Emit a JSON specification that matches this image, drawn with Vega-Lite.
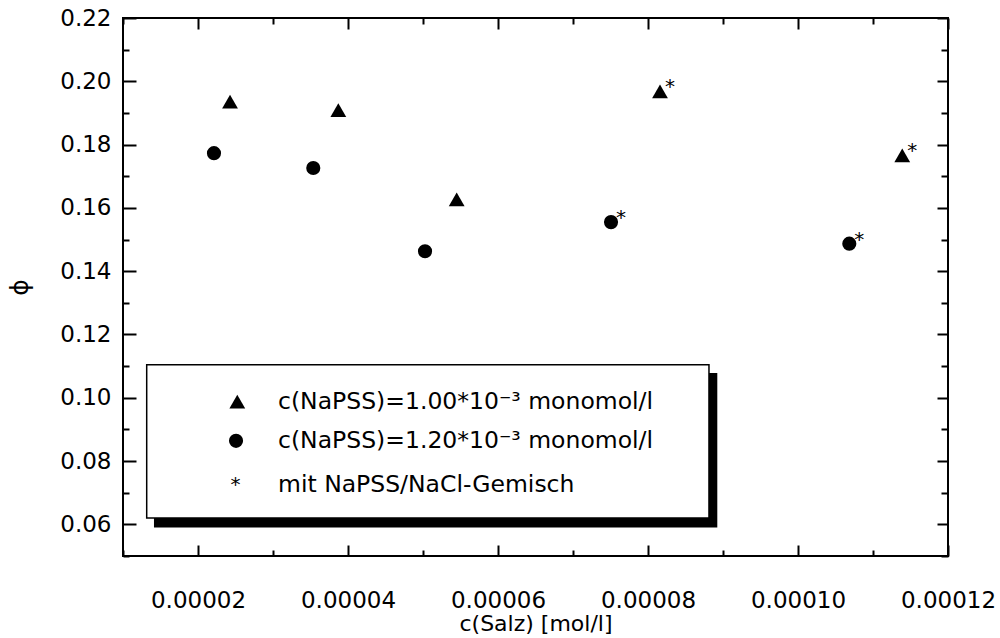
{
  "$schema": "https://vega.github.io/schema/vega-lite/v6.json",
  "width": 825,
  "height": 538,
  "autosize": {"type": "none"},
  "padding": {"left": 123, "top": 18, "right": 52, "bottom": 82},
  "background": "white",
  "config": {
    "view": {"stroke": "black", "strokeWidth": 2},
    "font": "DejaVu Sans",
    "axis": {
      "labelFont": "DejaVu Sans", "labelFontSize": 23, "labelColor": "black",
      "titleFont": "DejaVu Sans", "titleFontSize": 22, "titleFontWeight": "normal", "titleColor": "black",
      "tickColor": "black", "tickWidth": 2, "domain": false, "grid": false
    }
  },
  "datasets": {
    "pts": [
      {"c": 0.00002427, "phi": 0.1936, "serie": "1.00", "gemisch": false},
      {"c": 0.00003871, "phi": 0.1909, "serie": "1.00", "gemisch": false},
      {"c": 0.00005449, "phi": 0.1627, "serie": "1.00", "gemisch": false},
      {"c": 0.0000816, "phi": 0.1968, "serie": "1.00", "gemisch": true},
      {"c": 0.0001139, "phi": 0.1766, "serie": "1.00", "gemisch": true},
      {"c": 0.00002213, "phi": 0.1773, "serie": "1.20", "gemisch": false},
      {"c": 0.00003537, "phi": 0.1726, "serie": "1.20", "gemisch": false},
      {"c": 0.00005027, "phi": 0.1463, "serie": "1.20", "gemisch": false},
      {"c": 0.00007507, "phi": 0.1555, "serie": "1.20", "gemisch": true},
      {"c": 0.00010684, "phi": 0.1487, "serie": "1.20", "gemisch": true}
    ],
    "box": [
      {"part": "shadow", "x1": 0.00001413, "x2": 0.00008924, "y1": 0.10782, "y2": 0.05904},
      {"part": "box", "x1": 0.00001316, "x2": 0.00008813, "y1": 0.11045, "y2": 0.0620}
    ],
    "leg": [
      {"lx": 0.00002524, "ly": 0.0988, "tx": 0.00003067, "ty": 0.0988, "serie": "1.00", "label": "c(NaPSS)=1.00*10⁻³ monomol/l"},
      {"lx": 0.00002507, "ly": 0.0864, "tx": 0.00003067, "ty": 0.0864, "serie": "1.20", "label": "c(NaPSS)=1.20*10⁻³ monomol/l"},
      {"lx": 0.0000250, "ly": 0.0725, "tx": 0.00003067, "ty": 0.0725, "serie": "star", "label": "mit NaPSS/NaCl-Gemisch"}
    ]
  },
  "layer": [
    {
      "data": {"name": "box"},
      "transform": [{"filter": "datum.part === 'shadow'"}],
      "mark": {"type": "rect", "fill": "black"},
      "encoding": {
        "x": {"field": "x1", "type": "quantitative", "scale": {"domain": [0.00001, 0.00012], "nice": false, "zero": false},
          "axis": {"orient": "bottom", "values": [0.00002, 0.00004, 0.00006, 0.00008, 0.0001, 0.00012], "format": ".5f", "ticks": false, "labelPadding": 33, "labelFlush": false, "title": "c(Salz) [mol/l]", "titlePadding": 1}},
        "x2": {"field": "x2"},
        "y": {"field": "y1", "type": "quantitative", "scale": {"domain": [0.05, 0.22], "nice": false, "zero": false},
          "axis": {"orient": "left", "values": [0.06, 0.08, 0.1, 0.12, 0.14, 0.16, 0.18, 0.2, 0.22], "format": ".2f", "ticks": false, "labelPadding": 12, "labelFlush": false, "title": "ϕ", "titlePadding": 27, "titleFontSize": 25}},
        "y2": {"field": "y2"}
      }
    },
    {
      "data": {"name": "box"},
      "transform": [{"filter": "datum.part === 'box'"}],
      "mark": {"type": "rect", "fill": "white", "stroke": "black", "strokeWidth": 1.5},
      "encoding": {
        "x": {"field": "x1", "type": "quantitative",
          "axis": {"orient": "bottom", "values": [0.00002, 0.00004, 0.00006, 0.00008, 0.0001, 0.00012], "labels": false, "tickSize": -11, "title": null}},
        "x2": {"field": "x2"},
        "y": {"field": "y1", "type": "quantitative",
          "axis": {"orient": "left", "values": [0.06, 0.08, 0.1, 0.12, 0.14, 0.16, 0.18, 0.2, 0.22], "labels": false, "tickSize": -13, "title": null}},
        "y2": {"field": "y2"}
      }
    },
    {
      "data": {"name": "pts"},
      "mark": {"type": "point", "filled": true, "fill": "black", "opacity": 1, "strokeWidth": 0},
      "encoding": {
        "x": {"field": "c", "type": "quantitative",
          "axis": {"orient": "bottom", "values": [0.00001, 0.00003, 0.00005, 0.00007, 0.00009, 0.00011], "labels": false, "tickSize": -6, "title": null}},
        "y": {"field": "phi", "type": "quantitative",
          "axis": {"orient": "left", "values": [0.05, 0.07, 0.09, 0.11, 0.13, 0.15, 0.17, 0.19, 0.21], "labels": false, "tickSize": -6, "title": null}},
        "shape": {"field": "serie", "type": "nominal", "scale": {"domain": ["1.00", "1.20", "star"], "range": ["triangle-up", "circle", "circle"]}, "legend": null},
        "size": {"field": "serie", "type": "nominal", "scale": {"domain": ["1.00", "1.20", "star"], "range": [250, 150, 0]}, "legend": null}
      }
    },
    {
      "data": {"name": "pts"},
      "transform": [{"filter": "datum.gemisch"}],
      "mark": {"type": "text", "text": "*", "dx": 10, "dy": -4, "fontSize": 20, "font": "DejaVu Sans", "fill": "black", "baseline": "middle", "align": "center"},
      "encoding": {
        "x": {"field": "c", "type": "quantitative",
          "axis": {"orient": "top", "values": [0.00002, 0.00004, 0.00006, 0.00008, 0.0001, 0.00012], "labels": false, "tickSize": -11, "title": null}},
        "y": {"field": "phi", "type": "quantitative",
          "axis": {"orient": "right", "values": [0.06, 0.08, 0.1, 0.12, 0.14, 0.16, 0.18, 0.2, 0.22], "labels": false, "tickSize": -11, "title": null}}
      }
    },
    {
      "data": {"name": "leg"},
      "transform": [{"filter": "datum.serie !== 'star'"}],
      "mark": {"type": "point", "filled": true, "fill": "black", "opacity": 1, "strokeWidth": 0},
      "encoding": {
        "x": {"field": "lx", "type": "quantitative",
          "axis": {"orient": "top", "values": [0.00001, 0.00003, 0.00005, 0.00007, 0.00009, 0.00011], "labels": false, "tickSize": -6, "title": null}},
        "y": {"field": "ly", "type": "quantitative",
          "axis": {"orient": "right", "values": [0.05, 0.07, 0.09, 0.11, 0.13, 0.15, 0.17, 0.19, 0.21], "labels": false, "tickSize": -7, "title": null}},
        "shape": {"field": "serie", "type": "nominal", "legend": null},
        "size": {"field": "serie", "type": "nominal", "legend": null}
      }
    },
    {
      "data": {"name": "leg"},
      "transform": [{"filter": "datum.serie === 'star'"}],
      "mark": {"type": "text", "text": "*", "fontSize": 20, "font": "DejaVu Sans", "fill": "black", "baseline": "middle", "align": "center"},
      "encoding": {
        "x": {"field": "lx", "type": "quantitative", "axis": null},
        "y": {"field": "ly", "type": "quantitative", "axis": null}
      }
    },
    {
      "data": {"name": "leg"},
      "mark": {"type": "text", "fontSize": 23.5, "font": "DejaVu Sans", "fill": "black", "baseline": "middle", "align": "left"},
      "encoding": {
        "x": {"field": "tx", "type": "quantitative", "axis": null},
        "y": {"field": "ty", "type": "quantitative", "axis": null},
        "text": {"field": "label"}
      }
    }
  ],
  "resolve": {"axis": {"x": "independent", "y": "independent"}}
}
